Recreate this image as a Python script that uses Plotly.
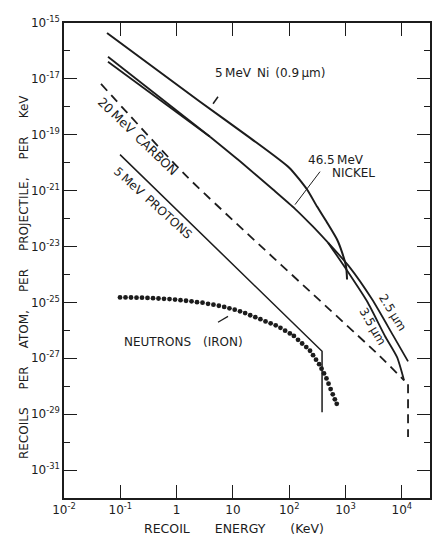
import plotly.graph_objects as go

# ---- data (log10 of recoil energy in keV, log10 of recoils per atom per projectile per keV) ----
ni5_log_e = [-1.236, 0.416, 1.304, 2.000, 2.316, 2.494, 2.671, 2.849, 2.938, 3.009, 3.027]
ni5_log_r = [-15.36, -17.82, -19.11, -20.18, -20.96, -21.57, -22.14, -22.75, -23.21, -23.71, -24.18]

nickel_a_log_e = [-1.219, 0.593]
nickel_a_log_r = [-16.21, -19.07]
nickel_b_log_e = [-1.219, 0.593]
nickel_b_log_r = [-16.39, -19.07]
nickel_common_log_e = [0.593, 1.126, 1.712, 2.103, 2.423, 2.689]
nickel_common_log_r = [-19.07, -19.95, -20.96, -21.65, -22.29, -22.86]
nickel_25_log_e = [2.689, 3.062, 3.471, 3.844, 4.110]
nickel_25_log_r = [-22.86, -23.71, -24.89, -26.18, -27.11]
nickel_35_log_e = [2.689, 2.991, 3.382, 3.702, 3.915, 4.039]
nickel_35_log_r = [-22.86, -23.75, -24.96, -26.21, -26.96, -27.79]

carbon_log_e = [-1.343, 0.185, 3.613, 4.039]
carbon_log_r = [-17.18, -20.50, -26.93, -27.79]
carbon_tail_log_e = [4.110, 4.110]
carbon_tail_log_r = [-27.93, -29.82]

proton_log_e = [-1.005, 2.583, 2.583]
proton_log_r = [-19.71, -26.75, -28.93]

neutron_log_e = [-1.005, -0.908, -0.810, -0.712, -0.615, -0.517, -0.419, -0.322, -0.224, -0.126,
                 -0.028, 0.069, 0.167, 0.265, 0.362, 0.460, 0.558, 0.654, 0.750, 0.845,
                 0.938, 1.032, 1.126, 1.217, 1.307, 1.398, 1.488, 1.579, 1.670, 1.760,
                 1.844, 1.927, 2.011, 2.083, 2.156, 2.229, 2.302, 2.369, 2.423, 2.476,
                 2.531, 2.574, 2.618, 2.661, 2.698, 2.735, 2.773, 2.810, 2.844]
neutron_log_r = [-24.82, -24.82, -24.825, -24.83, -24.83, -24.84, -24.85, -24.86, -24.87, -24.88,
                 -24.90, -24.92, -24.94, -24.96, -24.99, -25.01, -25.05, -25.08, -25.12, -25.16,
                 -25.21, -25.26, -25.32, -25.38, -25.46, -25.53, -25.60, -25.68, -25.75, -25.82,
                 -25.91, -26.01, -26.11, -26.20, -26.34, -26.47, -26.60, -26.73, -26.89, -27.05,
                 -27.21, -27.37, -27.54, -27.72, -27.91, -28.10, -28.29, -28.47, -28.63]

# leader ticks pointing at curves
leader_ni5_log_e = [0.647, 0.735]
leader_ni5_log_r = [-17.89, -17.64]
leader_nickel_log_e = [2.103, 2.547]
leader_nickel_log_r = [-21.50, -20.32]
leader_neutron_log_e = [0.735, 0.913]
leader_neutron_log_r = [-25.71, -25.50]

x_tick_exps = [-2, -1, 0, 1, 2, 3, 4]
x_tick_text = ["10<sup>-2</sup>", "10<sup>-1</sup>", "1", "10", "10<sup>2</sup>", "10<sup>3</sup>", "10<sup>4</sup>"]
y_major_exps = [-15, -17, -19, -21, -23, -25, -27, -29, -31]
y_minor_exps = [-16, -18, -20, -22, -24, -26, -28, -30]

INK = "#1c1c1c"
FONT = "DejaVu Sans"
SP = "\u2002"


def p10(v):
    return [10 ** t for t in v]


fig = go.Figure()


def add_line(le, lr, width=2.0, dash="solid", shape="linear"):
    fig.add_trace(go.Scatter(x=p10(le), y=p10(lr), mode="lines",
                             line=dict(color=INK, width=width, dash=dash, shape=shape,
                                       smoothing=0.6 if shape == "spline" else None),
                             hoverinfo="skip", showlegend=False))


add_line(ni5_log_e, ni5_log_r, 2.0, shape="spline")
add_line(nickel_a_log_e, nickel_a_log_r, 1.8)
add_line(nickel_b_log_e, nickel_b_log_r, 1.8)
add_line(nickel_common_log_e, nickel_common_log_r, 1.8, shape="spline")
add_line(nickel_25_log_e, nickel_25_log_r, 1.8, shape="spline")
add_line(nickel_35_log_e, nickel_35_log_r, 1.8, shape="spline")
add_line(carbon_log_e, carbon_log_r, 1.8, "9px,6px", shape="spline")
add_line(carbon_tail_log_e, carbon_tail_log_r, 1.8, "9px,6px")
add_line(proton_log_e, proton_log_r, 1.5)
add_line(leader_ni5_log_e, leader_ni5_log_r, 1.5)
add_line(leader_nickel_log_e, leader_nickel_log_r, 1.0)
add_line(leader_neutron_log_e, leader_neutron_log_r, 1.2)

fig.add_trace(go.Scatter(x=p10(neutron_log_e), y=p10(neutron_log_r), mode="markers",
                         marker=dict(color=INK, size=4.8, line=dict(width=0)),
                         hoverinfo="skip", showlegend=False))

annots = [
    dict(text="5\u2009MeV" + SP + "Ni" + SP + "(0.9\u2009µm)", x=1.659, y=-16.79, textangle=0, size=12),
    dict(text="46.5\u2009MeV", x=2.831, y=-19.89, textangle=0, size=12),
    dict(text="NICKEL", x=3.133, y=-20.36, textangle=0, size=12),
    dict(text="20\u2009MeV" + SP + "CARBON", x=-0.686, y=-19.07, textangle=44, size=12.5),
    dict(text="5\u2009MeV" + SP + "PROTONS", x=-0.419, y=-21.43, textangle=42, size=12),
    dict(text="NEUTRONS" + SP + SP + "(IRON)", x=0.114, y=-26.43, textangle=0, size=12),
    dict(text="2.5\u2009µm", x=3.826, y=-25.36, textangle=58, size=12),
    dict(text="3.5\u2009µm", x=3.471, y=-25.86, textangle=60, size=12),
]
for a in annots:
    fig.add_annotation(text=a["text"], x=a["x"], y=a["y"], xref="x", yref="y",
                       showarrow=False, textangle=a["textangle"],
                       font=dict(family=FONT, size=a["size"], color=INK))

fig.add_annotation(text="RECOIL" + SP * 4 + "ENERGY" + SP * 4 + "(KeV)", xref="paper", yref="paper",
                   x=0.464, y=-0.084, showarrow=False,
                   font=dict(family=FONT, size=12.5, color=INK))
fig.add_annotation(text=(SP * 3).join(["RECOILS", "PER", "ATOM,", "PER", "PROJECTILE,", "PER", "KeV"]),
                   xref="paper", yref="paper", x=-0.134, y=0.465, showarrow=False, textangle=-90,
                   font=dict(family=FONT, size=12, color=INK))

tick_style = dict(ticks="inside", ticklen=13, tickwidth=1.4, tickcolor=INK,
                  showline=True, linecolor=INK, linewidth=1.5, mirror="ticks",
                  showgrid=False, zeroline=False, automargin=False)
minor_style = dict(tickvals=p10(y_minor_exps), ticks="inside", ticklen=6,
                   tickwidth=1.4, tickcolor=INK, showgrid=False)

fig.update_layout(
    xaxis=dict(type="log", range=[-2, 4.5], tickvals=p10(x_tick_exps), ticktext=x_tick_text,
               tickfont=dict(family=FONT, size=12, color=INK), **tick_style),
    yaxis=dict(type="log", range=[-32, -15], tickvals=p10(y_major_exps),
               ticktext=[f"10<sup>{e}</sup>" for e in y_major_exps],
               minor=minor_style,
               tickfont=dict(family=FONT, size=12, color=INK), **tick_style),
    width=432, height=544, autosize=False,
    margin=dict(l=64, r=2, t=23, b=46),
    paper_bgcolor="white", plot_bgcolor="white",
    showlegend=False,
)

fig.write_html("out.html", config={"displayModeBar": False},
               post_script="document.body.style.margin='0';document.body.style.overflow='hidden';")
